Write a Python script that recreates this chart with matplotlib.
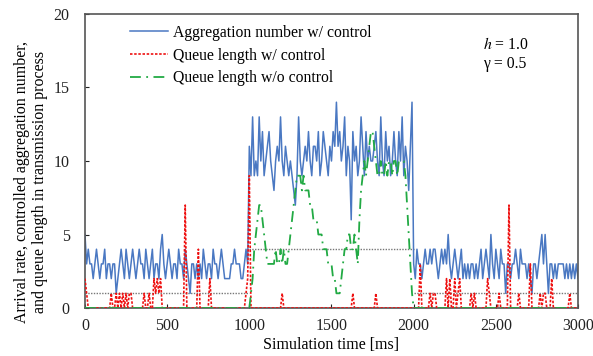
import numpy as np
import matplotlib
matplotlib.use("Agg")
import matplotlib.pyplot as plt

plt.rcParams['font.family'] = ['Liberation Serif', 'DejaVu Serif']
plt.rcParams['mathtext.fontset'] = 'stix'

# Simulation time grid [ms] (10 ms sampling)
time_ms = np.arange(0, 3001, 10)

# Aggregation number w/ control
aggregation = [
    5, 3, 4, 3, 3, 2, 3, 4, 3, 2,
    3, 3, 4, 2, 3, 3, 2, 3, 3, 1,
    2, 3, 4, 3, 2, 4, 3, 2, 3, 4,
    3, 2, 3, 4, 3, 3, 2, 4, 3, 2,
    3, 4, 2, 3, 3, 2, 4, 5, 3, 2,
    3, 4, 3, 2, 3, 3, 2, 4, 3, 3,
    2, 4, 3, 2, 1, 3, 3, 2, 3, 2,
    3, 2, 4, 3, 2, 3, 3, 2, 4, 3,
    3, 2, 3, 4, 3, 2, 2, 2, 2, 3,
    3, 4, 3, 3, 3, 2, 2, 3, 4, 3,
    11, 9, 13, 9, 10, 9, 13, 10, 12, 9,
    10, 11, 12, 10, 9, 8, 10, 11, 10, 13,
    10, 9, 11, 10, 9, 10, 9, 8, 7, 9,
    13, 10, 9, 10, 11, 10, 12, 10, 9, 11,
    11, 10, 12, 9, 10, 12, 11, 10, 9, 11,
    10, 12, 11, 14, 11, 12, 10, 11, 13, 9,
    11, 10, 6, 12, 10, 11, 9, 10, 13, 11,
    9, 12, 10, 11, 10, 10, 11, 12, 10, 9,
    13, 10, 9, 12, 10, 11, 9, 10, 12, 10,
    9, 12, 10, 13, 9, 11, 10, 8, 11, 14,
    3, 2, 4, 3, 3, 2, 3, 4, 3, 3,
    4, 3, 4, 4, 3, 2, 3, 4, 3, 4,
    3, 5, 3, 2, 3, 4, 3, 2, 3, 4,
    2, 3, 2, 3, 2, 3, 3, 2, 3, 2,
    3, 4, 2, 3, 4, 3, 2, 5, 3, 2,
    4, 3, 2, 4, 3, 3, 1, 3, 3, 2,
    3, 3, 4, 3, 2, 4, 3, 3, 3, 2,
    3, 2, 1, 3, 3, 2, 3, 4, 5, 3,
    5, 3, 1, 3, 3, 2, 3, 2, 3, 3,
    3, 3, 2, 3, 2, 3, 2, 3, 2, 3,
    2,
]

# Queue length w/ control
queue_ctrl = [
    2, 1, 0, 0, 0, 0, 0, 0, 0, 0,
    0, 0, 0, 0, 0, 0, 1, 0, 0, 1,
    0, 1, 0, 1, 0, 1, 0, 1, 1, 0,
    0, 0, 0, 0, 0, 0, 1, 0, 0, 1,
    0, 0, 2, 1, 2, 1, 2, 0, 0, 0,
    0, 0, 0, 0, 0, 0, 0, 0, 0, 0,
    0, 7, 0, 0, 0, 0, 0, 0, 0, 4,
    0, 0, 0, 0, 0, 0, 2, 0, 0, 0,
    0, 0, 0, 0, 0, 0, 0, 0, 0, 0,
    0, 0, 0, 0, 0, 0, 0, 0, 1, 2,
    9, 0, 0, 0, 0, 0, 0, 0, 0, 0,
    0, 0, 0, 0, 0, 0, 0, 0, 0, 0,
    1, 0, 0, 0, 0, 0, 0, 0, 0, 0,
    0, 0, 0, 0, 0, 0, 0, 0, 0, 0,
    0, 0, 0, 0, 0, 0, 0, 0, 0, 0,
    0, 0, 0, 0, 0, 0, 0, 0, 0, 0,
    0, 0, 0, 1, 0, 0, 0, 0, 0, 0,
    0, 0, 0, 0, 0, 0, 0, 1, 0, 0,
    0, 0, 0, 0, 0, 0, 0, 0, 0, 0,
    0, 0, 0, 0, 0, 0, 0, 0, 0, 0,
    0, 0, 0, 0, 3, 0, 0, 0, 0, 0,
    1, 0, 1, 1, 0, 0, 0, 0, 0, 0,
    2, 0, 2, 0, 0, 2, 0, 1, 2, 0,
    0, 0, 0, 0, 0, 1, 0, 1, 0, 0,
    0, 0, 0, 0, 0, 2, 1, 0, 0, 0,
    0, 0, 1, 0, 0, 0, 0, 0, 7, 0,
    0, 0, 0, 0, 1, 0, 0, 0, 0, 0,
    0, 3, 0, 0, 0, 0, 0, 1, 0, 1,
    1, 0, 0, 0, 2, 0, 0, 0, 0, 0,
    0, 0, 0, 0, 0, 1, 0, 0, 0, 0,
    0,
]

# Queue length w/o control
queue_noctrl = [
    0, 0, 0, 0, 0, 0, 0, 0, 0, 0, 0, 0, 0, 0, 0, 0, 0, 0, 0, 0,
    0, 0, 0, 0, 0, 0, 0, 0, 0, 0, 0, 0, 0, 0, 0, 0, 0, 0, 0, 0,
    0, 0, 0, 0, 0, 0, 0, 0, 0, 0, 0, 0, 0, 0, 0, 0, 0, 0, 0, 0,
    0, 0, 0, 0, 0, 0, 0, 0, 0, 0, 0, 0, 0, 0, 0, 0, 0, 0, 0, 0,
    0, 0, 0, 0, 0, 0, 0, 0, 0, 0, 0, 0, 0, 0, 0, 0, 0, 0, 0, 0,
    0, 1, 2, 4, 5, 6, 7, 7, 6, 5,
    4, 3, 3, 3, 3, 3, 4, 3, 3, 4,
    3, 4, 3, 3, 4, 5, 6, 7, 8, 9,
    9, 9, 8, 9, 8, 8, 8, 7, 7, 6,
    6, 6, 5, 5, 5, 4, 4, 4, 3, 3,
    3, 2, 2, 1, 1, 1, 2, 3, 4, 4,
    5, 5, 4, 4, 5, 4, 3, 6, 8, 9,
    10, 9, 10, 11, 12, 12, 11, 10, 9, 9,
    10, 9, 9, 10, 9, 10, 10, 9, 10, 10,
    9, 10, 10, 10, 10, 9, 7, 5, 3, 1,
    0, 0, 0, 0, 0, 0, 0, 0, 0, 0, 0, 0, 0, 0, 0, 0, 0, 0, 0, 0,
    0, 0, 0, 0, 0, 0, 0, 0, 0, 0, 0, 0, 0, 0, 0, 0, 0, 0, 0, 0,
    0, 0, 0, 0, 0, 0, 0, 0, 0, 0, 0, 0, 0, 0, 0, 0, 0, 0, 0, 0,
    0, 0, 0, 0, 0, 0, 0, 0, 0, 0, 0, 0, 0, 0, 0, 0, 0, 0, 0, 0,
    0, 0, 0, 0, 0, 0, 0, 0, 0, 0, 0, 0, 0, 0, 0, 0, 0, 0, 0, 0,
    0,
]

# Arrival rate (piecewise constant)
arrival_start = [0, 1000, 2000]
arrival_end = [1000, 2000, 3000]
arrival_rate = [1, 4, 1]

x_ticks = [0, 500, 1000, 1500, 2000, 2500, 3000]
y_ticks = [0, 5, 10, 15, 20]

fig = plt.figure(figsize=(5.93, 3.56), dpi=100)
ax = fig.add_axes([0.1433, 0.1348, 0.8314, 0.8259])

ax.hlines(arrival_rate, arrival_start, arrival_end, colors='#777777',
          linestyles=(0, (1, 1)), linewidth=1.0, zorder=1)
ax.plot(time_ms, aggregation, color='#4a78c2', linewidth=1.1,
        label='Aggregation number w/ control', zorder=2)
ax.plot(time_ms, queue_ctrl, color='#ee1111', linewidth=1.2,
        linestyle=(0, (1.5, 1)), label='Queue length w/ control', zorder=3)
ax.plot(time_ms, queue_noctrl, color='#22aa44', linewidth=1.3,
        linestyle=(0, (6, 3, 1, 3)), label='Queue length w/o control', zorder=4)

ax.set_xlim(0, 3000)
ax.set_ylim(0, 20)
ax.set_xticks(x_ticks)
ax.set_yticks(y_ticks)
ax.tick_params(direction='in', length=3, labelsize=11.5, colors='#222222')
ax.tick_params(axis='x', pad=7)
ax.tick_params(axis='y', pad=11)
for s in ax.spines.values():
    s.set_color('#555555')
    s.set_linewidth(1.2)

ax.set_xlabel('Simulation time [ms]', fontsize=11.5, labelpad=2)
ax.set_ylabel('Arrival rate, controlled aggregation number,\nand queue length in transmission process',
              fontsize=11.5, linespacing=1.15)
ax.yaxis.set_label_coords(-0.075, 0.43)

leg = ax.legend(loc='upper left', bbox_to_anchor=(0.07, 1.0), frameon=False,
                fontsize=11.3, handlelength=2.4, handletextpad=0.3,
                labelspacing=0.42, borderaxespad=0.3)

ax.text(2420, 17.9, r'$h$ = 1.0', fontsize=11.3, va='center', ha='left')
ax.text(2420, 16.6, 'γ = 0.5', fontsize=11.3, va='center', ha='left')

fig.savefig('out.png', dpi=100)
